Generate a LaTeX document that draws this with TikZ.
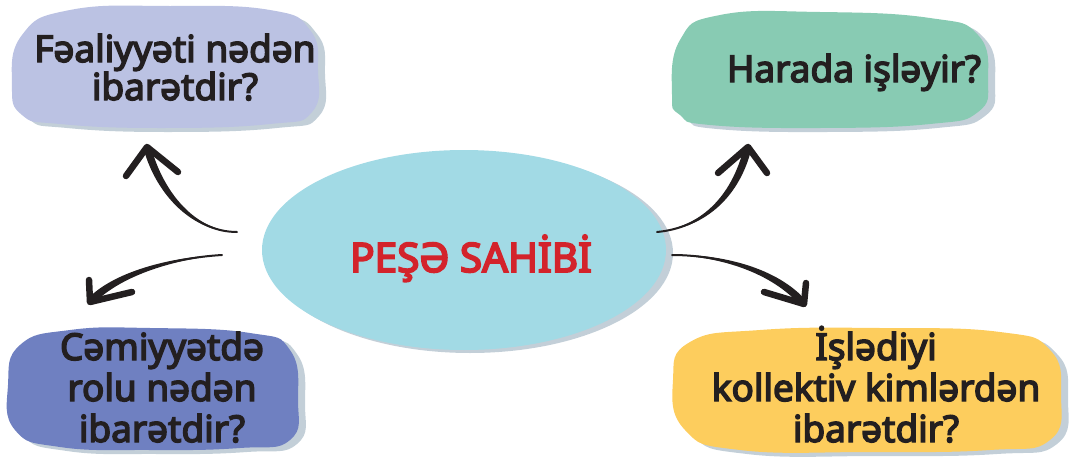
\documentclass[tikz,border=0pt]{standalone}
\usepackage{fontspec}
\setmainfont{Noto Sans}
\newfontfamily\qfont{Noto Sans}[FakeBold=4]
\newfontfamily\tfont{Noto Sans}[FakeBold=4.5]
\usetikzlibrary{shapes.geometric,calc}
\definecolor{lav}{HTML}{BBC2E3}
\definecolor{grn}{HTML}{88CBB3}
\definecolor{vio}{HTML}{6F80C1}
\definecolor{yel}{HTML}{FDCD5D}
\definecolor{cyan1}{HTML}{A2DAE5}
\definecolor{shd}{HTML}{C3CFD8}
\definecolor{red1}{HTML}{D3232B}
\definecolor{ink}{HTML}{231F20}
\tikzset{
  qtext/.style={text=ink, font=\qfont\fontsize{37}{41}\selectfont, align=center, inner sep=0pt},
  barb/.style={draw=ink, line width=6.5pt, line cap=round, line join=round},
}
\newcommand\taper[5]{%
  \fill[ink] (#1) .. controls ($(#2)!1.5pt!-90:(#3)$) and ($(#3)!#5!-90:(#4)$) .. ($(#4)!#5!90:(#3)$)
     -- ($(#4)!#5!-90:(#3)$) .. controls ($(#3)!#5!90:(#4)$) and ($(#2)!1.5pt!90:(#3)$) .. (#1) -- cycle;
  \draw[ink, line width=2pt, line cap=round] (#1) .. controls (#2) and (#3) .. (#4);}
\begin{document}
\begin{tikzpicture}[x=1pt,y=-1pt]
\useasboundingbox (0,0) rectangle (1069,458);
% central ellipse
\fill[shd] (470,253) ellipse [x radius=203, y radius=100];
\node[ellipse, fill=cyan1, minimum width=404pt, minimum height=200pt, inner sep=0pt] (center) at (464,250) {};
\node[text=red1, font=\tfont\fontsize{40.5}{50}\selectfont, anchor=base] (title) at (471,272) {PEŞƏ SAHİBİ};
% top-left blob
\fill[shd] plot[smooth cycle, tension=0.8] coordinates {(19,89) (29,39) (77,14) (177,10) (277,14) (317,34) (325,74) (319,116) (277,128) (167,132) (67,128) (29,119)};
\fill[lav] plot[smooth cycle, tension=0.8] coordinates {(12,85) (22,35) (70,10) (170,6) (270,10) (310,30) (318,70) (312,112) (270,124) (160,128) (60,124) (22,115)};
% top-right blob
\fill[shd] plot[smooth cycle, tension=0.8] coordinates {(679,99) (687,44) (727,19) (827,16) (937,22) (985,39) (995,84) (985,116) (937,128) (827,132) (717,129) (687,119)};
\fill[grn] plot[smooth cycle, tension=0.8] coordinates {(672,95) (680,40) (720,15) (820,12) (930,18) (978,35) (988,80) (978,112) (930,124) (820,128) (710,125) (680,115)};
% bottom-left blob
\fill[shd] plot[smooth cycle, tension=0.8] coordinates {(15,389) (27,349) (77,334) (157,332) (257,337) (297,354) (305,404) (297,444) (247,452) (157,454) (67,451) (22,434)};
\fill[vio] plot[smooth cycle, tension=0.8] coordinates {(8,385) (20,345) (70,330) (150,328) (250,333) (290,350) (298,400) (290,440) (240,448) (150,450) (60,447) (15,430)};
% bottom-right blob
\fill[shd] plot[smooth cycle, tension=0.8] coordinates {(680,384) (697,346) (767,334) (887,332) (1007,336) (1057,354) (1068,399) (1057,444) (997,454) (877,456) (747,454) (692,434)};
\fill[yel] plot[smooth cycle, tension=0.8] coordinates {(673,380) (690,342) (760,330) (880,328) (1000,332) (1050,350) (1061,395) (1050,440) (990,450) (870,452) (740,450) (685,430)};
% texts (base = last line)
\node[qtext, font=\qfont\fontsize{37}{38}\selectfont, anchor=base] (q1) at (175,100) {Fəaliyyəti nədən\\ibarətdir?};
\node[qtext, anchor=base] (q2) at (854,82) {Harada işləyir?};
\node[qtext, anchor=base] (q3) at (162,442) {Cəmiyyətdə\\rolu nədən\\ibarətdir?};
\node[qtext, anchor=base] (q4) at (876,442) {İşlədiyi\\kollektiv kimlərdən\\ibarətdir?};
% arrow coordinates
\coordinate (s1) at (237,232); \coordinate (c1a) at (195,232); \coordinate (c1b) at (160,195); \coordinate (t1) at (147,147);
\coordinate (s2) at (222,255); \coordinate (c2a) at (170,258); \coordinate (c2b) at (115,275); \coordinate (t2) at (90,302);
\coordinate (s3) at (657,232); \coordinate (c3a) at (700,228); \coordinate (c3b) at (735,200); \coordinate (t3) at (748,147);
\coordinate (s4) at (672,255); \coordinate (c4a) at (720,255); \coordinate (c4b) at (775,270); \coordinate (t4) at (804,304);
\coordinate (b1a) at (126,176); \coordinate (b1b) at (178,172);
\coordinate (b2a) at (89,280); \coordinate (b2b) at (132,292);
\coordinate (b3a) at (718,173); \coordinate (b3b) at (767,173);
\coordinate (b4a) at (764,292); \coordinate (b4b) at (806,283);
% arrows
\taper{s1}{c1a}{c1b}{t1}{3.8pt}
\draw[barb] (b1a) -- (t1) -- (b1b);
\taper{s2}{c2a}{c2b}{t2}{3.8pt}
\draw[barb] (b2a) -- (t2) -- (b2b);
\taper{s3}{c3a}{c3b}{t3}{3.8pt}
\draw[barb] (b3a) -- (t3) -- (b3b);
\taper{s4}{c4a}{c4b}{t4}{3.8pt}
\draw[barb] (b4a) -- (t4) -- (b4b);
\end{tikzpicture}
\end{document}
